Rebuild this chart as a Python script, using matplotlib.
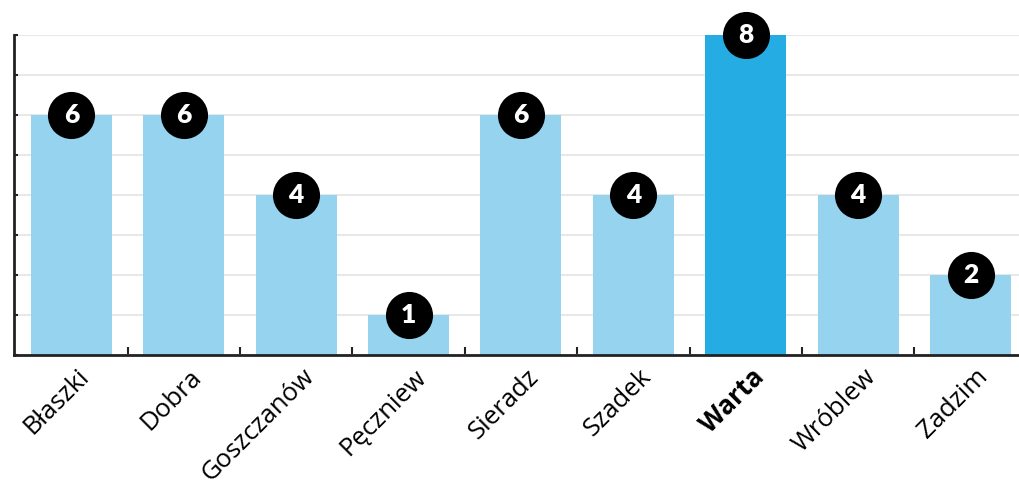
import matplotlib
matplotlib.use('Agg')
import matplotlib.pyplot as plt
from matplotlib.transforms import offset_copy

towns = ['Błaszki', 'Dobra', 'Goszczanów', 'Pęczniew', 'Sieradz', 'Szadek', 'Warta', 'Wróblew', 'Zadzim']
counts = [6, 6, 4, 1, 6, 4, 8, 4, 2]
highlight = 'Warta'

light = '#95d3ef'
strong = '#25ace3'

fig = plt.figure(figsize=(10.2, 4.91), dpi=100)
ax = fig.add_axes([14 / 1020, 1 - 355 / 491, 1 - 14 / 1020, 320 / 491])

x = list(range(len(towns)))
colors = [strong if t == highlight else light for t in towns]
ax.bar(x, counts, width=0.72, color=colors, zorder=2)

ax.set_xlim(-0.51, len(towns) - 0.56)
ax.set_ylim(0, 8)
ax.set_yticks(range(0, 9))
ax.set_yticklabels([])
ax.grid(axis='y', color='#e8e8e8', linewidth=1.5, zorder=0)
ax.tick_params(axis='y', direction='in', length=3, width=1.5, color='#222222')

# tick marks between categories
ax.set_xticks([i + 0.5 for i in x[:-1]])
ax.set_xticklabels([])
ax.tick_params(axis='x', direction='in', length=6, width=1.5, color='#222222')

for s in ['top', 'right']:
    ax.spines[s].set_visible(False)
ax.spines['left'].set_linewidth(2)
ax.spines['bottom'].set_linewidth(2)
ax.spines['left'].set_color('#222222')
ax.spines['bottom'].set_color('#222222')

# value badges
ax.scatter(x, counts, s=1150, color='black', zorder=4, clip_on=False, linewidths=0)
for i, v in zip(x, counts):
    ax.text(i, v, str(v), ha='center', va='center', color='white', fontsize=19,
            fontweight='heavy', family='Lato', zorder=5)

# rotated category labels
trans = offset_copy(ax.transData, fig=fig, x=14 / 100, y=-18 / 100, units='inches')
for i, t in zip(x, towns):
    ax.text(i, 0, t, rotation=45, rotation_mode='anchor', ha='right', va='center',
            fontsize=18.5, family='Open Sans', fontweight='bold' if t == highlight else 'medium',
            transform=trans, clip_on=False)

fig.savefig('out.png', dpi=100)
